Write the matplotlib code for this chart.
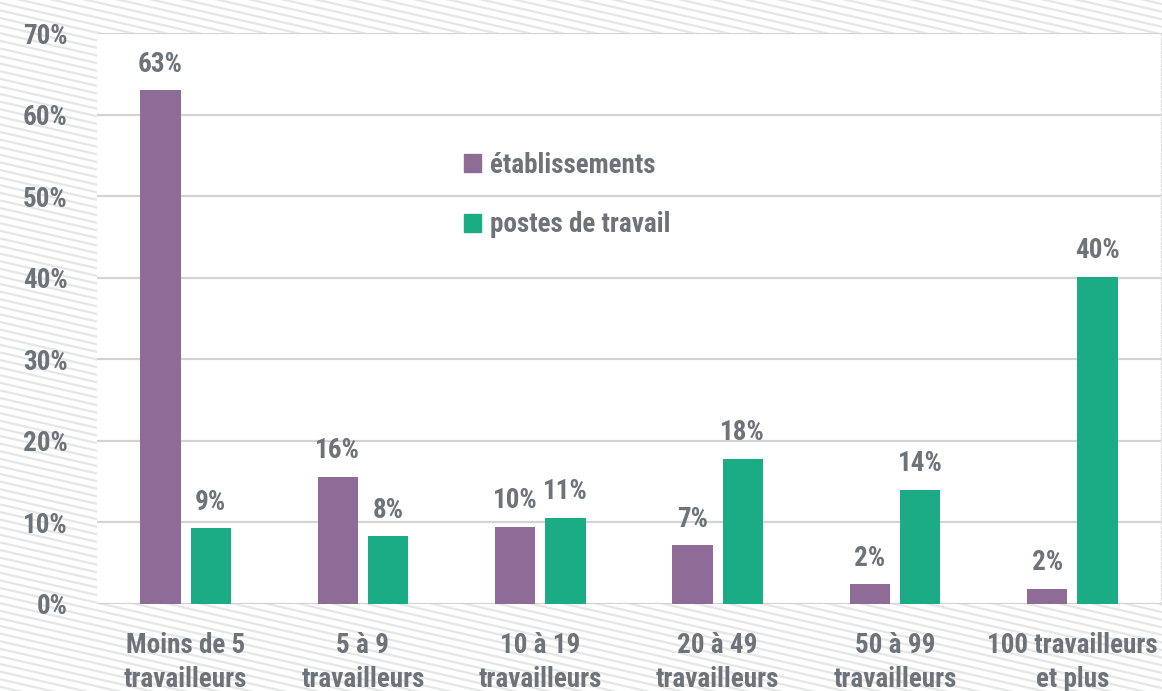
import matplotlib
matplotlib.use("Agg")
import matplotlib.pyplot as plt
from matplotlib import font_manager
from matplotlib.patches import Patch
import numpy as np

categories = ["Moins de 5\ntravailleurs", "5 à 9\ntravailleurs", "10 à 19\ntravailleurs",
              "20 à 49\ntravailleurs", "50 à 99\ntravailleurs", "100 travailleurs\net plus"]
etablissements = [63.0, 15.6, 9.5, 7.2, 2.4, 1.9]
postes = [9.3, 8.3, 10.6, 17.8, 14.0, 40.1]
series_names = ["établissements", "postes de travail"]
yticks = [0, 10, 20, 30, 40, 50, 60, 70]

avail = {f.name for f in font_manager.fontManager.ttflist}
fam = "DejaVu Sans"
for cand in ["Roboto Condensed", "Liberation Sans Narrow", "DejaVu Sans Condensed", "Open Sans Condensed"]:
    if cand in avail:
        fam = cand
        break
plt.rcParams['font.family'] = [fam, 'DejaVu Sans']
plt.rcParams['font.weight'] = 'bold'

TXT = "#6D7378"
PURPLE = "#8F6C98"
GREEN = "#1BAC86"
GRID = "#D3D3D3"
FS = 19.5

fig = plt.figure(figsize=(11.62, 6.91), dpi=100)
fig.patch.set_facecolor("white")

# hatched background
bg = fig.add_axes([0, 0, 1, 1], zorder=-10)
bg.set_xlim(0, 1162)
bg.set_ylim(691, 0)
bg.axis("off")
slope = 0.23
for y0 in np.arange(-400, 700, 7.6):
    bg.plot([0, 1162], [y0, y0 + slope * 1162], color="#E5E6E6", lw=1.6, solid_capstyle="butt")

W, H = 1162, 691
left, right, top, bottom = 97, 1161, 33, 604
ax = fig.add_axes([left / W, 1 - bottom / H, (right - left) / W, (bottom - top) / H])
ax.set_facecolor("white")

x = np.arange(len(categories))
bw = 0.226
off = 0.142
b1 = ax.bar(x - off, etablissements, bw, color=PURPLE, zorder=3)
b2 = ax.bar(x + off, postes, bw, color=GREEN, zorder=3)
for bars, vals in ((b1, etablissements), (b2, postes)):
    for r, v in zip(bars, vals):
        ax.annotate(f"{v:.0f}%", (r.get_x() + r.get_width() / 2, v), xytext=(0, 9),
                    textcoords="offset points", ha="center", va="bottom",
                    fontsize=FS, color=TXT, fontweight="bold")

ax.set_xlim(-0.5, len(categories) - 0.5)
ax.set_ylim(0, 70)
ax.set_yticks(yticks)
ax.set_yticklabels([f"{t}%" for t in yticks])
ax.set_xticks(x)
ax.set_xticklabels(categories, linespacing=1.3)
ax.tick_params(axis="both", length=0, labelsize=FS, labelcolor=TXT)
ax.tick_params(axis="y", pad=21)
ax.tick_params(axis="x", pad=20.5)
ax.yaxis.grid(True, color=GRID, lw=1.6, zorder=0)
for s in ["left", "top", "bottom"]:
    ax.spines[s].set_visible(False)
ax.spines["right"].set_color("#DDDDDD")
ax.spines["right"].set_linestyle((0, (2, 2)))

handles = [Patch(color=PURPLE), Patch(color=GREEN)]
leg = ax.legend(handles, series_names, loc="upper left",
                bbox_to_anchor=((453 - left) / (right - left), 1 - (141 - top) / (bottom - top)),
                frameon=False, fontsize=FS, handlelength=0.65, handleheight=0.65,
                handletextpad=0.3, labelspacing=1.2, borderaxespad=0)
for t in leg.get_texts():
    t.set_color(TXT)

fig.savefig("out.png", dpi=100)
